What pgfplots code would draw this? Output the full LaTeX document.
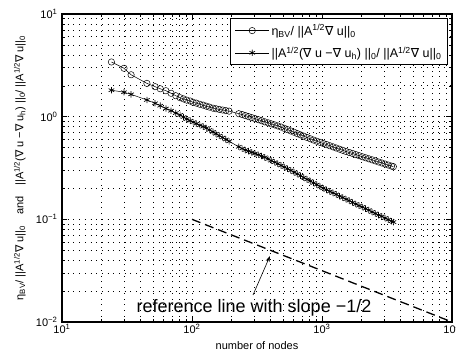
\documentclass[border=0pt]{standalone}
\usepackage{fontspec}
\setmainfont{Liberation Sans}
\newfontfamily\symf{DejaVu Sans}
\usepackage{pgfplots}
\pgfplotsset{compat=1.18}
\usepackage{pgfplotstable}
\usetikzlibrary{arrows.meta}
\newcommand\nab{{\symf\char"2207}}
\newcommand\nrm{||A\textsuperscript{1/2}\nab{} u||\textsubscript{0}}
\pgfplotstableread{
n eta err
24 3.41 1.81
30 2.96 1.73
34 2.56 1.65
45 2.11 1.455
52 1.96 1.35
57 1.87 1.28
63 1.79 1.20
69 1.69 1.143
75 1.60 1.084
81 1.53 1.040
86 1.49 0.991
91 1.45 0.948
97 1.42 0.914
102 1.38 0.883
108 1.355 0.855
115 1.32 0.826
122 1.295 0.800
129 1.265 0.774
136 1.24 0.743
145 1.21 0.711
153 1.194 0.682
162 1.178 0.653
172 1.161 0.627
182 1.146 0.600
193 1.132 0.575
229 1.069 0.509
243 1.049 0.489
257 1.025 0.473
272 1.002 0.461
288 0.979 0.449
305 0.957 0.438
324 0.935 0.426
343 0.914 0.414
363 0.891 0.402
385 0.871 0.387
407 0.851 0.373
432 0.832 0.360
457 0.813 0.348
484 0.793 0.335
513 0.769 0.323
543 0.748 0.311
575 0.726 0.300
610 0.705 0.288
646 0.684 0.277
684 0.665 0.266
724 0.646 0.255
767 0.627 0.245
813 0.609 0.236
861 0.592 0.226
912 0.577 0.218
966 0.562 0.209
1023 0.548 0.201
1084 0.535 0.194
1148 0.521 0.187
1216 0.508 0.181
1288 0.495 0.175
1365 0.482 0.168
1445 0.470 0.163
1531 0.458 0.157
1622 0.448 0.152
1718 0.438 0.146
1820 0.427 0.141
1928 0.417 0.136
2042 0.407 0.132
2163 0.398 0.127
2291 0.389 0.123
2427 0.380 0.118
2570 0.371 0.114
2723 0.362 0.110
2884 0.354 0.107
3055 0.346 0.103
3236 0.338 0.0993
3428 0.330 0.0959
3540 0.326 0.094
}\datatable
\begin{document}
\begin{tikzpicture}
\useasboundingbox (-62pt,-38pt) rectangle (394pt,322pt);
\begin{axis}[
  at={(0,0)}, anchor=south west,
  scale only axis, width=390pt, height=308pt,
  xmode=log, ymode=log,
  xmin=10, xmax=10000, ymin=0.01, ymax=10,
  grid=both,
  major grid style={black, line width=0.7pt, dash pattern=on 0.7pt off 5pt},
  minor grid style={black, line width=0.7pt, dash pattern=on 0.7pt off 5pt},
  axis line style={line width=1.2pt},
  tick align=inside,
  major tick length=5pt, minor tick length=3pt,
  tick style={black, line width=0.5pt},
  xtick={10,100,1000,10000},
  xticklabels={10\textsuperscript{1},10\textsuperscript{2},10\textsuperscript{3},10\textsuperscript{4}},
  ytick={0.01,0.1,1,10},
  yticklabels={10\textsuperscript{−2},10\textsuperscript{−1},10\textsuperscript{0},10\textsuperscript{1}},
  ticklabel style={font=\fontsize{11}{13}\selectfont},
  xticklabel style={yshift=1pt},
  yticklabel style={xshift=-1pt},
  xlabel={number of nodes},
  xlabel style={font=\fontsize{11}{13}\selectfont, at={(axis description cs:0.5,-0.075)}, anchor=center},
  ylabel={η\textsubscript{BV}/ \nrm\quad and\quad ||A\textsuperscript{1/2}(\nab{} u −\nab{} u\textsubscript{h}) ||\textsubscript{0}/ \nrm},
  ylabel style={font=\fontsize{11}{13}\selectfont, at={(axis description cs:-0.108,0.5)}, anchor=center, rotate=0},
  legend style={at={(rel axis cs:0.9897,0.987)}, anchor=north east, draw=black, line width=1pt,
    font=\fontsize{12.5}{14}\selectfont, row sep=6pt, inner sep=4pt},
  legend cell align=left,
  legend image code/.code={\draw[mark repeat=2,mark phase=2] plot coordinates {(0cm,0cm) (0.6cm,0cm) (1.2cm,0cm)};},
]
\addplot[black, line width=0.5pt, mark=o, mark size=3.2pt] table[x=n, y=eta] {\datatable};
\addlegendentry{η\textsubscript{BV}/ \nrm}
\addplot[black, line width=0.5pt, mark=asterisk, mark size=3.2pt, mark options={line width=0.7pt}] table[x=n, y=err] {\datatable};
\addlegendentry{||A\textsuperscript{1/2}(\nab{} u −\nab{} u\textsubscript{h}) ||\textsubscript{0}/ \nrm}
\addplot[black, line width=1.3pt, dash pattern=on 9pt off 5pt, forget plot] coordinates {(100,0.1) (10000,0.01)};
\node[font=\fontsize{18}{20}\selectfont, anchor=center] at (axis cs:300,0.0137) {reference line with slope −1/2};
\draw[-{Stealth[length=6pt,width=4pt]}, line width=0.6pt] (axis cs:294.6,0.01833) -- (axis cs:398,0.04396);
\end{axis}
\end{tikzpicture}
\end{document}
